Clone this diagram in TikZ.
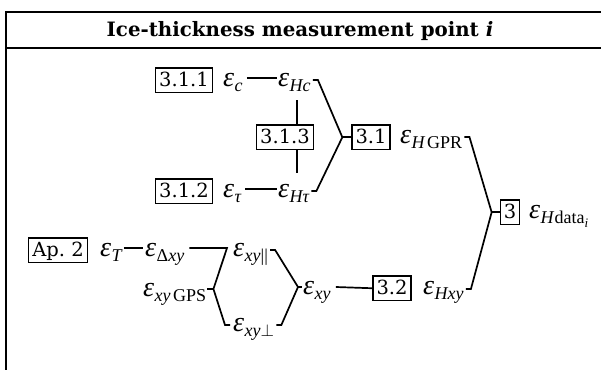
\documentclass[tikz,border=0pt]{standalone}
\usepackage{fontspec}
\setmainfont{DejaVu Serif}
\newfontfamily\tms{Liberation Serif}
\usetikzlibrary{calc}
\newcommand\bxf{\fontsize{19.5}{23}\selectfont}
\newcommand\E[1]{{\fontsize{28}{32}\selectfont\tms\itshape ε}\kern0.5pt\raisebox{-5pt}{\fontsize{18}{20}\selectfont\tms\itshape #1}}
\newcommand\ssub[1]{\raisebox{-4pt}{\fontsize{13}{14}\selectfont #1}}
\tikzset{
 numbox/.style={draw, line width=1.3pt, font=\bxf, inner xsep=3.5pt, inner ysep=3pt, text height=15pt, text depth=3.5pt, anchor=base},
 eps/.style={inner sep=0pt, anchor=base west},
 conn/.style={line width=1.7pt, line join=miter},
 frame/.style={line width=2pt}
}
\begin{document}
\begin{tikzpicture}[x=1pt,y=-1pt]
\useasboundingbox (0,0) rectangle (601,369);
\draw[frame] (603,12) -- (6,12) -- (6,371);
\draw[frame] (6,48) -- (603,48);
\node[font=\fontsize{19.8}{23}\selectfont\bfseries, anchor=base, inner sep=0pt] (title) at (300,37) {Ice-thickness measurement point \textit{i}};
% upper group
\node[numbox] (b311) at (184,86) {3.1.1};
\node[eps] (ec) at (223,86) {\E{c}};
\node[eps] (eHc) at (278,86) {\E{Hc}};
\node[numbox] (b313) at (285,143) {3.1.3};
\node[numbox] (b312) at (184,197) {3.1.2};
\node[eps] (et) at (223,197) {\E{τ}};
\node[eps] (eHt) at (278,197) {\E{Hτ}};
\node[numbox] (b31) at (371,143) {3.1};
\node[eps] (eHGPR) at (400,143) {\E{H\kern2.5pt\textup{GPR}}};
\node[numbox] (b3) at (510,218) {3};
\node[eps] (eHd) at (529,218) {\E{H\textup{data}\ssub{i}}};
% lower group
\node[numbox] (bAp) at (58,256) {Ap.\ 2};
\node[eps] (eT) at (100,256) {\E{T}};
\node[eps] (eDxy) at (145,256) {\E{\textup{Δ}xy}};
\node[eps] (epar) at (233,256) {\E{xy\textup{||}}};
\node[eps] (egps) at (143,296) {\E{xy\kern2.5pt\textup{GPS}}};
\node[eps] (eperp) at (233,331) {\E{xy$\perp$}};
\node[eps] (exy) at (303,294) {\E{xy}};
\node[numbox] (b32) at (392,294) {3.2};
\node[eps] (eHxy) at (423,294) {\E{Hxy}};
% connectors upper
\draw[conn] ($(ec.base east)+(4,-8)$) -- ($(eHc.base west)+(-1,-8)$);
\draw[conn] ($(et.base east)+(4,-8)$) -- ($(eHt.base west)+(-1,-8)$);
\path (eHc.base west) ++(19,14) coordinate (v1);
\path (eHt.base west) ++(19,-24) coordinate (v2);
\draw[conn] (v1) -- (v1 |- b313.north);
\draw[conn] (b313.south -| v2) -- (v2);
\coordinate (t1) at ($(b31.west)+(-9,0)$);
\draw[conn] ($(eHc.base east)+(2,-6)$) -- ++(5,0) -- (t1) -- ($(eHt.base east)+(7,-6)$) -- ++(-5,0);
\draw[conn] (t1) -- (b31.west);
\coordinate (t4) at ($(b3.west)+(-8,0)$);
\draw[conn] ($(eHGPR.base east)+(2,-6)$) -- ++(5,0) -- (t4) -- ($(eHxy.base east)+(7,-5)$) -- ++(-5,0);
\draw[conn] (t4) -- (b3.west);
% connectors lower
\draw[conn] ($(eT.base east)+(2,-8)$) -- ($(eDxy.base west)+(-2,-8)$);
\coordinate (t2) at ($(egps.base east)+(7,-7)$);
\draw[conn] ($(eDxy.base east)+(5,-8)$) -- ($(epar.base west)+(-6,-8)$) -- (t2) -- ($(eperp.base west)+(-8,-6)$) -- ++(5,0);
\draw[conn] ($(egps.base east)+(1,-7)$) -- (t2);
\coordinate (t3) at ($(exy.base west)+(-5,-7)$);
\draw[conn] ($(epar.base east)+(2,-6)$) -- ++(5,0) -- (t3) -- ($(eperp.base east)+(7,-6)$) -- ++(-5,0);
\draw[conn] (t3) -- ($(exy.base west)+(-1,-7)$);
\draw[conn] ($(exy.base east)+(5,-7)$) -- (b32.west);
\end{tikzpicture}
\end{document}
